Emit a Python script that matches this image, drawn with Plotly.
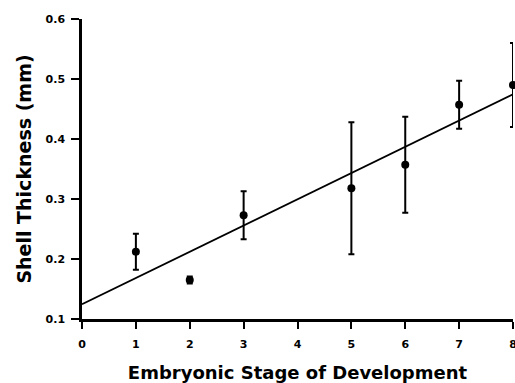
import numpy as np
import plotly.graph_objects as go

stages = [1, 2, 3, 5, 6, 7, 8]
thickness = [0.212, 0.165, 0.273, 0.318, 0.357, 0.457, 0.490]
errors = [0.030, 0.006, 0.040, 0.110, 0.080, 0.040, 0.070]
x_ticks = [0, 1, 2, 3, 4, 5, 6, 7, 8]
y_ticks = [0.1, 0.2, 0.3, 0.4, 0.5, 0.6]

slope, intercept = np.polyfit(stages, thickness, 1)
fit_x = [0, 8]
fit_y = [intercept + slope * v for v in fit_x]

fig = go.Figure()
fig.add_trace(go.Scatter(x=fit_x, y=fit_y, mode="lines", cliponaxis=False,
                         line=dict(color="black", width=1.8), showlegend=False))
fig.add_trace(go.Scatter(x=stages, y=thickness, mode="markers", cliponaxis=False,
                         marker=dict(color="black", size=8),
                         error_y=dict(type="data", array=errors, visible=True,
                                      color="black", thickness=2, width=3),
                         showlegend=False))

font_family = "DejaVu Sans, Arial, sans-serif"
fig.update_layout(
    width=515, height=383,
    margin=dict(l=82, r=2, t=19, b=64),
    paper_bgcolor="white", plot_bgcolor="white",
    font=dict(family=font_family, color="black"),
    xaxis=dict(range=[0, 8], tickvals=x_ticks, ticktext=[f"<b>{v}</b>" for v in x_ticks],
               showgrid=False, zeroline=False, showline=True, linecolor="black", linewidth=2.5,
               ticks="outside", ticklen=7, tickwidth=2, tickcolor="black", automargin=False,
               ticklabelstandoff=6, ticklabeloverflow="allow",
               tickfont=dict(size=11, family=font_family),
               title=dict(text="<b>Embryonic Stage of Development</b>",
                          font=dict(size=18, family=font_family), standoff=19)),
    yaxis=dict(range=[0.1, 0.6], tickvals=y_ticks, ticktext=[f"<b>{v:.1f}</b>" for v in y_ticks],
               showgrid=False, zeroline=False, showline=True, linecolor="black", linewidth=2.5,
               ticks="outside", ticklen=8, tickwidth=2, tickcolor="black", automargin=False,
               ticklabelstandoff=4, ticklabeloverflow="allow",
               tickfont=dict(size=11, family=font_family),
               title=dict(text="<b>Shell Thickness (mm)</b>",
                          font=dict(size=19, family=font_family), standoff=9)),
)
fig.write_html("out.html", config={"displayModeBar": False},
               post_script="document.body.style.margin='0';document.body.style.overflow='hidden';")
